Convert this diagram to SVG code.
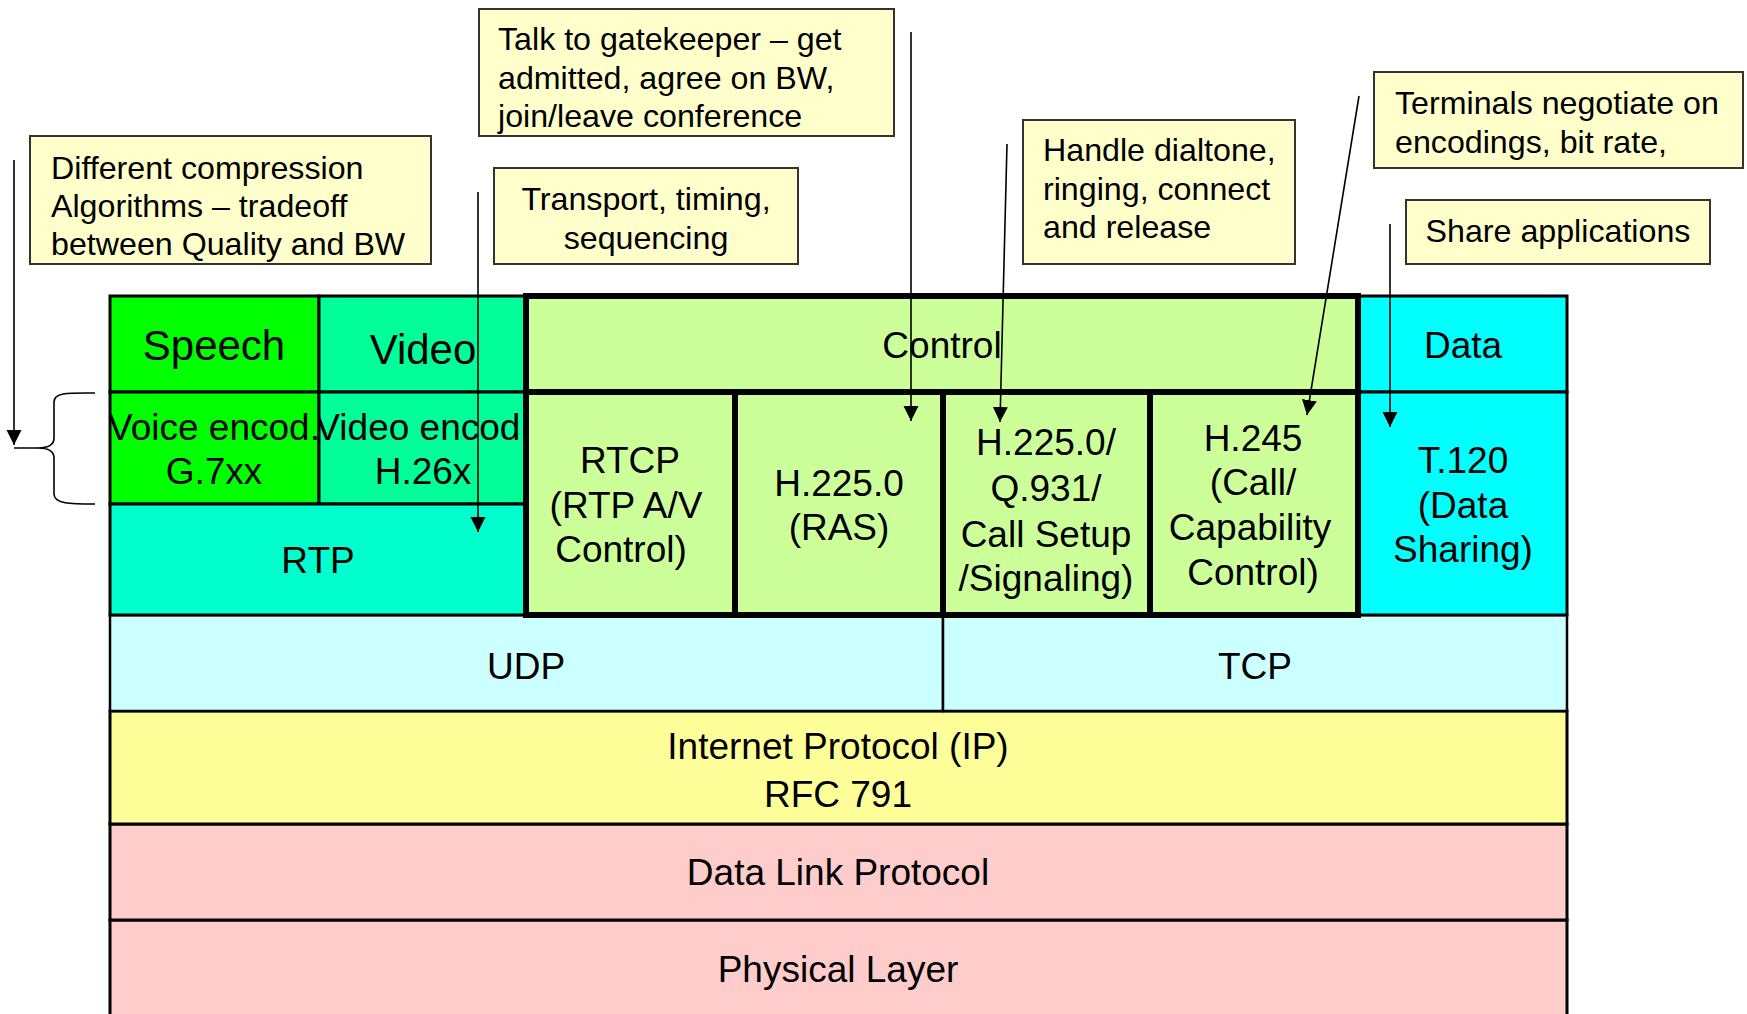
<svg xmlns="http://www.w3.org/2000/svg" width="1747" height="1014" viewBox="0 0 1747 1014">
<style>
text{font-family:"Liberation Sans",Arial,sans-serif;fill:#000}
.t{font-size:37px;text-anchor:middle}
.big{font-size:42px;text-anchor:middle}
.note{font-size:32.2px}
.notec{font-size:32.2px;text-anchor:middle}
.nb{fill:#FFFFCC;stroke:#333;stroke-width:2}
.c{stroke:#000;stroke-width:3}
.k{stroke:#000;stroke-width:6;fill:#CCFF99}
.conn{stroke:#000;stroke-width:1.6;fill:none}
</style>
<defs>
<marker id="ah" markerUnits="userSpaceOnUse" markerWidth="16" markerHeight="16" refX="15" refY="7.5" orient="auto">
<path d="M0,0 L15,7.5 L0,15 z" fill="#000"/>
</marker>
<clipPath id="cpVoice"><rect x="111" y="393" width="206" height="110"/></clipPath>
<clipPath id="cpVideo"><rect x="320" y="393" width="204" height="110"/></clipPath>
</defs>
<rect width="1747" height="1014" fill="#fff"/>

<g id="physical"><rect class="c" x="110" y="920" width="1457" height="100" fill="#FFCCCC"/><text class="t" x="838" y="982">Physical Layer</text></g>
<g id="datalink"><rect class="c" x="110" y="824" width="1457" height="96" fill="#FFCCCC"/><text class="t" x="838" y="885">Data Link Protocol</text></g>
<g id="ip"><rect class="c" x="110" y="711" width="1457" height="113" fill="#FFFF99"/><text class="t" x="838" y="759">Internet Protocol (IP)</text><text class="t" x="838" y="807">RFC 791</text></g>
<g id="udp"><rect x="110" y="615" width="833" height="96" fill="#CCFFFF" stroke="#000" stroke-width="2.5"/><text class="t" x="526" y="679">UDP</text></g>
<g id="tcp"><rect x="943" y="615" width="624" height="96" fill="#CCFFFF" stroke="#000" stroke-width="2.5"/><text class="t" x="1255" y="679">TCP</text></g>

<g id="speech"><rect class="c" x="110" y="296" width="209" height="96" fill="#00FF00"/><text class="big" x="214" y="360">Speech</text></g>
<g id="video"><rect class="c" x="319" y="296" width="207" height="96" fill="#00FF99"/><text class="big" x="423" y="364">Video</text></g>
<g id="voice-encod"><rect class="c" x="110" y="392" width="209" height="112" fill="#00FF00"/><g clip-path="url(#cpVoice)"><text class="t" x="214" y="440">Voice encod.</text></g><text class="t" x="214" y="484">G.7xx</text></g>
<g id="video-encod"><rect class="c" x="319" y="392" width="207" height="112" fill="#00FF99"/><g clip-path="url(#cpVideo)"><text class="t" x="423" y="440">Video encod.</text></g><text class="t" x="423" y="484">H.26x</text></g>
<g id="rtp"><rect class="c" x="110" y="504" width="416" height="111" fill="#00FFCC"/><text class="t" x="318" y="573">RTP</text></g>
<g id="data"><rect class="c" x="1358" y="296" width="209" height="96" fill="#00FFFF"/><text class="t" x="1463" y="358">Data</text></g>
<g id="t120"><rect class="c" x="1358" y="392" width="209" height="223" fill="#00FFFF"/><text class="t" x="1463" y="473">T.120</text><text class="t" x="1463" y="518">(Data</text><text class="t" x="1463" y="562">Sharing)</text></g>

<g id="control"><rect class="k" x="526" y="296" width="832" height="96"/><text class="t" x="942" y="358">Control</text></g>
<g id="rtcp"><rect class="k" x="526" y="392" width="209" height="223"/><text class="t" x="630" y="473">RTCP</text><text class="t" x="626" y="518">(RTP A/V</text><text class="t" x="621" y="562">Control)</text></g>
<g id="ras"><rect class="k" x="735" y="392" width="208" height="223"/><text class="t" x="839" y="496">H.225.0</text><text class="t" x="839" y="540">(RAS)</text></g>
<g id="q931"><rect class="k" x="943" y="392" width="207" height="223"/><text class="t" x="1046" y="455">H.225.0/</text><text class="t" x="1046" y="501">Q.931/</text><text class="t" x="1046" y="547">Call Setup</text><text class="t" x="1046" y="591">/Signaling)</text></g>
<g id="h245"><rect class="k" x="1150" y="392" width="208" height="223"/><text class="t" x="1253" y="451">H.245</text><text class="t" x="1253" y="495">(Call/</text><text class="t" x="1250" y="540">Capability</text><text class="t" x="1253" y="585">Control)</text></g>

<g id="note-compression"><rect class="nb" x="30" y="136" width="401" height="128"/><text class="note" x="51" y="179">Different compression</text><text class="note" x="51" y="217">Algorithms – tradeoff</text><text class="note" x="51" y="255">between Quality and BW</text></g>
<g id="note-gatekeeper"><rect class="nb" x="479" y="9" width="415" height="127"/><text class="note" x="498" y="50">Talk to gatekeeper – get</text><text class="note" x="498" y="89">admitted, agree on BW,</text><text class="note" x="498" y="127">join/leave conference</text></g>
<g id="note-transport"><rect class="nb" x="494" y="168" width="304" height="96"/><text class="notec" x="646" y="210">Transport, timing,</text><text class="notec" x="646" y="249">sequencing</text></g>
<g id="note-dialtone"><rect class="nb" x="1023" y="120" width="272" height="144"/><text class="note" x="1043" y="161">Handle dialtone,</text><text class="note" x="1043" y="200">ringing, connect</text><text class="note" x="1043" y="238">and release</text></g>
<g id="note-terminals"><rect class="nb" x="1374" y="72" width="369" height="96"/><text class="note" x="1395" y="114">Terminals negotiate on</text><text class="note" x="1395" y="153">encodings, bit rate,</text></g>
<g id="note-share"><rect class="nb" x="1406" y="200" width="304" height="64"/><text class="notec" x="1558" y="242">Share applications</text></g>

<g id="connectors">
<line class="conn" x1="14" y1="160" x2="14" y2="445" marker-end="url(#ah)"/>
<path class="conn" d="M95,393 C70,393 54,392 54,402 L54,438 C54,446 46,448 38,448 L14,448 M38,448 C46,448 54,450 54,458 L54,494 C54,504 70,504 95,504" stroke-width="2"/>
<line class="conn" x1="478" y1="192" x2="478" y2="532" marker-end="url(#ah)"/>
<line class="conn" x1="911" y1="32" x2="911" y2="421" marker-end="url(#ah)"/>
<line class="conn" x1="1007" y1="144" x2="1000" y2="422" marker-end="url(#ah)"/>
<line class="conn" x1="1359" y1="96" x2="1307" y2="415" marker-end="url(#ah)"/>
<line class="conn" x1="1390" y1="224" x2="1390" y2="427" marker-end="url(#ah)"/>
</g>
</svg>
